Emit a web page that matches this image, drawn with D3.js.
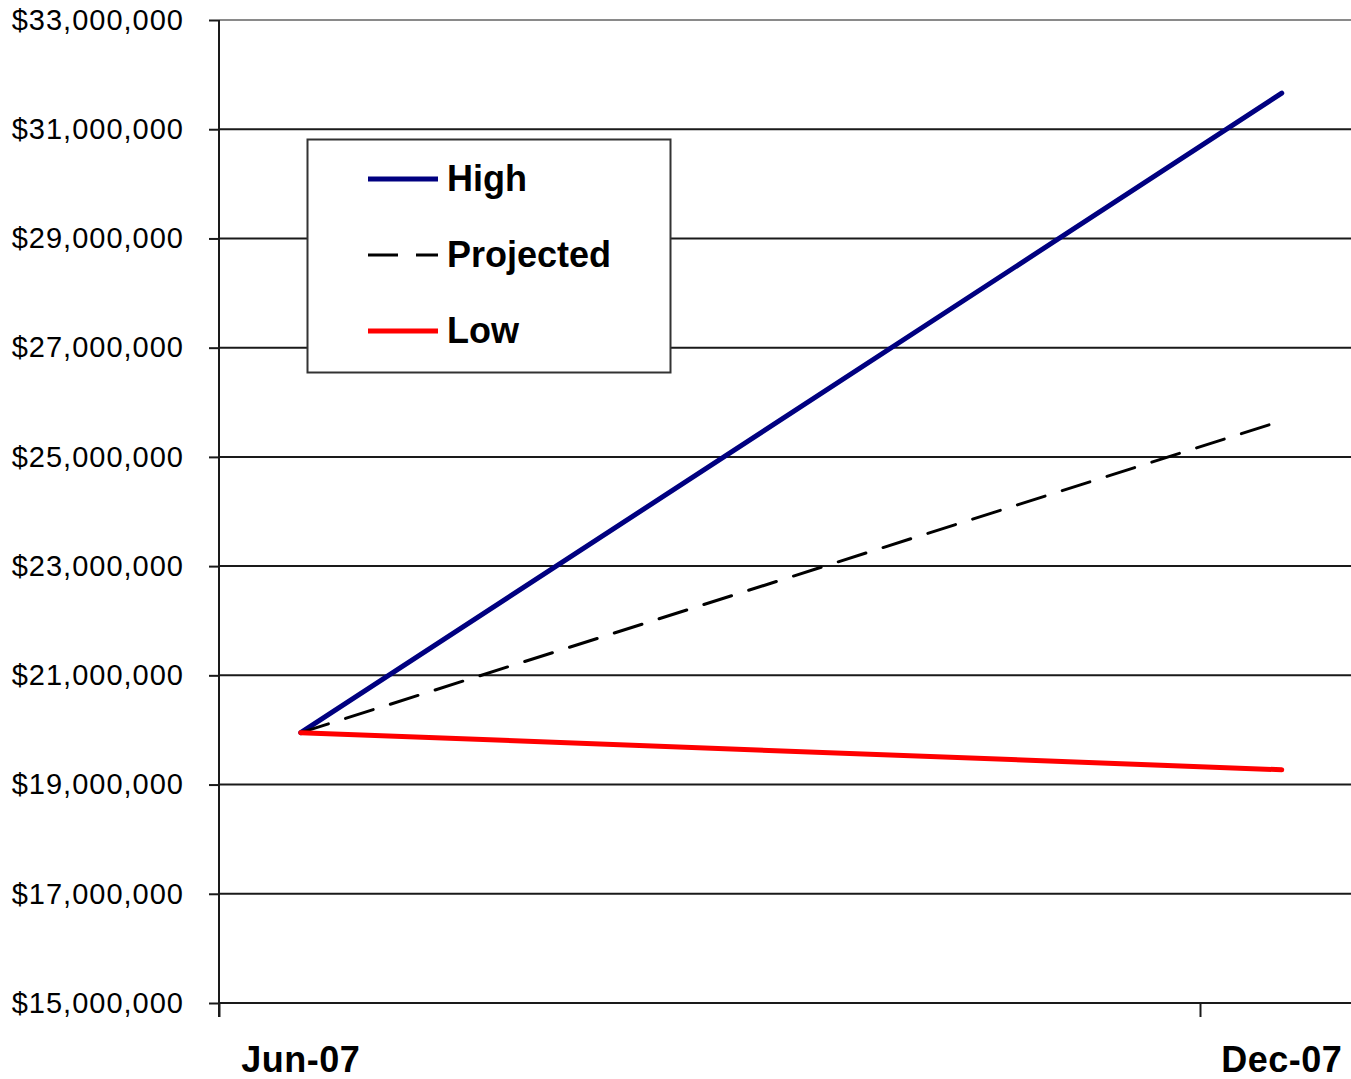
<!DOCTYPE html>
<html>
<head>
<meta charset="utf-8">
<script src="https://cdn.jsdelivr.net/npm/d3@7"></script>
<style>
  html, body { margin: 0; padding: 0; background: #fff; }
  svg { display: block; }
  text { font-family: "Liberation Sans", Arial, sans-serif; fill: #000; }
</style>
</head>
<body>
<div id="chart"></div>
<script>
// Revenue scenarios, Jun-07 to Dec-07
const monthLabels = ["Jun-07", "Dec-07"];
const monthDates = [new Date(2007, 5, 1), new Date(2007, 11, 1)];
const highValues = [19950000, 31660000];
const projectedValues = [19950000, 25660000];
const lowValues = [19950000, 19270000];
const yTickValues = [15000000, 17000000, 19000000, 21000000, 23000000, 25000000, 27000000, 29000000, 31000000, 33000000];
const seriesNames = ["High", "Projected", "Low"];

const W = 1351, H = 1079;
const plotLeft = 219, plotTop = 20, plotBottom = 1003;
const monthWidth = 163.5;

const svg = d3.select("#chart").append("svg")
  .attr("width", W).attr("height", H);

// months since the first category, one band per month
const base = monthDates[0];
const monthIndex = d => d3.timeMonth.count(base, d);
const x = d3.scaleLinear()
  .domain([-0.5, 6.5])
  .range([plotLeft, plotLeft + 7 * monthWidth]);

const y = d3.scaleLinear()
  .domain([15000000, 33000000])
  .range([plotBottom, plotTop]);

const fmt = v => "$" + d3.format(",")(v);

// horizontal gridlines
svg.append("g")
  .selectAll("line")
  .data(yTickValues)
  .join("line")
  .attr("x1", plotLeft).attr("x2", W)
  .attr("y1", d => y(d)).attr("y2", d => y(d))
  .attr("stroke", d => d === 33000000 ? "#8a8a8a" : "#1a1a1a")
  .attr("stroke-width", 2);

// y axis
const yAxis = svg.append("g")
  .attr("transform", `translate(${plotLeft},0)`)
  .call(d3.axisLeft(y).tickValues(yTickValues).tickFormat(fmt).tickSize(10).tickSizeOuter(0));
yAxis.select(".domain").remove();
yAxis.selectAll(".tick line").attr("stroke", "#1a1a1a").attr("stroke-width", 2);
yAxis.selectAll(".tick text")
  .attr("x", -35)
  .style("font-size", "29px")
  .style("letter-spacing", "1px")
  .attr("fill", "#111");
svg.append("line")
  .attr("x1", plotLeft).attr("x2", plotLeft)
  .attr("y1", plotTop).attr("y2", plotBottom + 14)
  .attr("stroke", "#1a1a1a").attr("stroke-width", 2);

// x axis: tick marks between the half-year groups, labels on the data months
const xAxis = svg.append("g")
  .attr("transform", `translate(0,${plotBottom})`)
  .call(d3.axisBottom(x).tickValues([-0.5, 5.5]).tickFormat("").tickSize(14).tickSizeOuter(0));
xAxis.select(".domain").remove();
xAxis.selectAll(".tick line").attr("stroke", "#1a1a1a").attr("stroke-width", 2);

svg.append("g")
  .selectAll("text")
  .data(monthDates)
  .join("text")
  .attr("x", d => x(monthIndex(d)))
  .attr("y", 1072)
  .attr("text-anchor", "middle")
  .style("font-size", "36px")
  .style("font-weight", "bold")
  .style("letter-spacing", "0.5px")
  .text((d, i) => monthLabels[i]);

// series lines
const line = d3.line()
  .x((v, i) => x(monthIndex(monthDates[i])))
  .y(v => y(v));

const series = [
  { name: seriesNames[0], values: highValues, color: "#000080", width: 5, dash: null },
  { name: seriesNames[1], values: projectedValues, color: "#000", width: 3, dash: "29,18" },
  { name: seriesNames[2], values: lowValues, color: "#ff0000", width: 5, dash: null }
];

svg.append("g")
  .selectAll("path")
  .data(series)
  .join("path")
  .attr("d", s => line(s.values))
  .attr("fill", "none")
  .attr("stroke", s => s.color)
  .attr("stroke-width", s => s.width)
  .attr("stroke-dasharray", s => s.dash)
  .attr("stroke-linecap", "round");

// legend
const legend = svg.append("g");
legend.append("rect")
  .attr("x", 307.5).attr("y", 139.5)
  .attr("width", 363).attr("height", 233)
  .attr("fill", "#fff")
  .attr("stroke", "#333").attr("stroke-width", 2);

const rows = legend.selectAll("g.row")
  .data(series)
  .join("g")
  .attr("class", "row")
  .attr("transform", (d, i) => `translate(0,${179 + i * 76})`);

rows.append("line")
  .attr("x1", 368).attr("x2", 438)
  .attr("y1", 0).attr("y2", 0)
  .attr("stroke", d => d.color)
  .attr("stroke-width", d => d.width)
  .attr("stroke-dasharray", d => d.dash ? "30,18" : null);

rows.append("text")
  .attr("x", 447)
  .attr("y", 12)
  .style("font-size", "36px")
  .style("font-weight", "bold")
  .text(d => d.name);
</script>
</body>
</html>
